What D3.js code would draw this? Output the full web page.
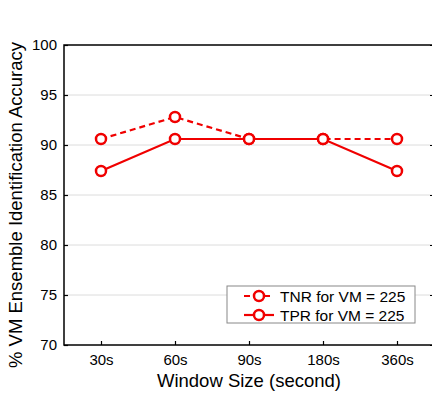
<!DOCTYPE html>
<html>
<head>
<meta charset="utf-8">
<script src="https://cdn.jsdelivr.net/npm/d3@7"></script>
<style>
  body { margin: 0; background: #fff; }
  svg { display: block; font-family: "Liberation Sans", Arial, sans-serif; }
</style>
</head>
<body>
<div id="chart"></div>
<script>
// data
var windows = ["30s", "60s", "90s", "180s", "360s"];
var tnr = [90.6, 92.8, 90.6, 90.6, 90.6];
var tpr = [87.4, 90.6, 90.6, 90.6, 87.4];
var yTicks = [70, 75, 80, 85, 90, 95, 100];
var seriesNames = ["TNR for VM = 225", "TPR for VM = 225"];

var width = 432, height = 394;
var mLeft = 64, mRight = 434, mTop = 45, mBottom = 345;
var red = "#f00000";

var svg = d3.select("#chart").append("svg")
  .attr("width", width)
  .attr("height", height);

var x = d3.scalePoint().domain(windows).range([mLeft, mRight]).padding(0.5);
var y = d3.scaleLinear().domain([70, 100]).range([mBottom, mTop]);

// grid
svg.append("g").selectAll("line")
  .data(yTicks.filter(d => d > 70 && d < 100))
  .enter().append("line")
  .attr("x1", mLeft).attr("x2", mRight)
  .attr("y1", d => y(d)).attr("y2", d => y(d))
  .attr("stroke", "#dcdcdc").attr("stroke-width", 1);

// axes (ticks inward)
var yAxisL = d3.axisLeft(y).tickValues(yTicks).tickSize(-4).tickPadding(7);
var gl = svg.append("g").attr("transform", "translate(" + mLeft + ",0)").call(yAxisL);
var yAxisR = d3.axisRight(y).tickValues(yTicks).tickSize(-4).tickFormat("");
var gr = svg.append("g").attr("transform", "translate(" + mRight + ",0)").call(yAxisR);
var xAxis = d3.axisBottom(x).tickSize(-4).tickPadding(9);
var gx = svg.append("g").attr("transform", "translate(0," + mBottom + ")").call(xAxis);

[gl, gr, gx].forEach(function(g){
  g.select(".domain").remove();
  g.selectAll(".tick line").attr("stroke", "#000").attr("stroke-width", 1.2);
  g.selectAll("text").attr("font-size", "15px").attr("fill", "#000")
    .style("font-family", "Liberation Sans, Arial, sans-serif");
});

// box
svg.append("rect")
  .attr("x", mLeft).attr("y", mTop)
  .attr("width", mRight - mLeft).attr("height", mBottom - mTop)
  .attr("fill", "none").attr("stroke", "#000").attr("stroke-width", 1.5);

// lines
var line = d3.line().x((d, i) => x(windows[i])).y(d => y(d));
var series = [{vals: tnr, dash: "6,4"}, {vals: tpr, dash: null}];

series.forEach(function(s){
  svg.append("path").datum(s.vals)
    .attr("d", line)
    .attr("fill", "none")
    .attr("stroke", red)
    .attr("stroke-width", 2.2)
    .attr("stroke-dasharray", s.dash);
  svg.append("g").selectAll("circle")
    .data(s.vals)
    .enter().append("circle")
    .attr("cx", (d, i) => x(windows[i]))
    .attr("cy", d => y(d))
    .attr("r", 5)
    .attr("fill", "#fff")
    .attr("stroke", red)
    .attr("stroke-width", 2.5);
});

// legend
var lg = svg.append("g");
lg.append("rect")
  .attr("x", 227).attr("y", 286)
  .attr("width", 188).attr("height", 37)
  .attr("fill", "#fff").attr("stroke", "#888").attr("stroke-width", 1);

seriesNames.forEach(function(name, i){
  var ly = 296 + i * 19;
  lg.append("line")
    .attr("x1", 244).attr("x2", 274)
    .attr("y1", ly).attr("y2", ly)
    .attr("stroke", red).attr("stroke-width", 2.2)
    .attr("stroke-dasharray", series[i].dash);
  lg.append("circle")
    .attr("cx", 259).attr("cy", ly).attr("r", 5)
    .attr("fill", "#fff").attr("stroke", red).attr("stroke-width", 2.5);
  lg.append("text")
    .attr("x", 280).attr("y", ly + 5.5)
    .attr("font-size", "15.5px")
    .text(name);
});

// axis titles
svg.append("text")
  .attr("x", (mLeft + mRight) / 2).attr("y", 387)
  .attr("text-anchor", "middle")
  .attr("font-size", "18.5px")
  .text("Window Size (second)");

svg.append("text")
  .attr("transform", "translate(22," + ((mTop + mBottom) / 2 + 10) + ") rotate(-90)")
  .attr("text-anchor", "middle")
  .attr("font-size", "18.5px")
  .text("% VM Ensemble Identification Accuracy");
</script>
</body>
</html>
